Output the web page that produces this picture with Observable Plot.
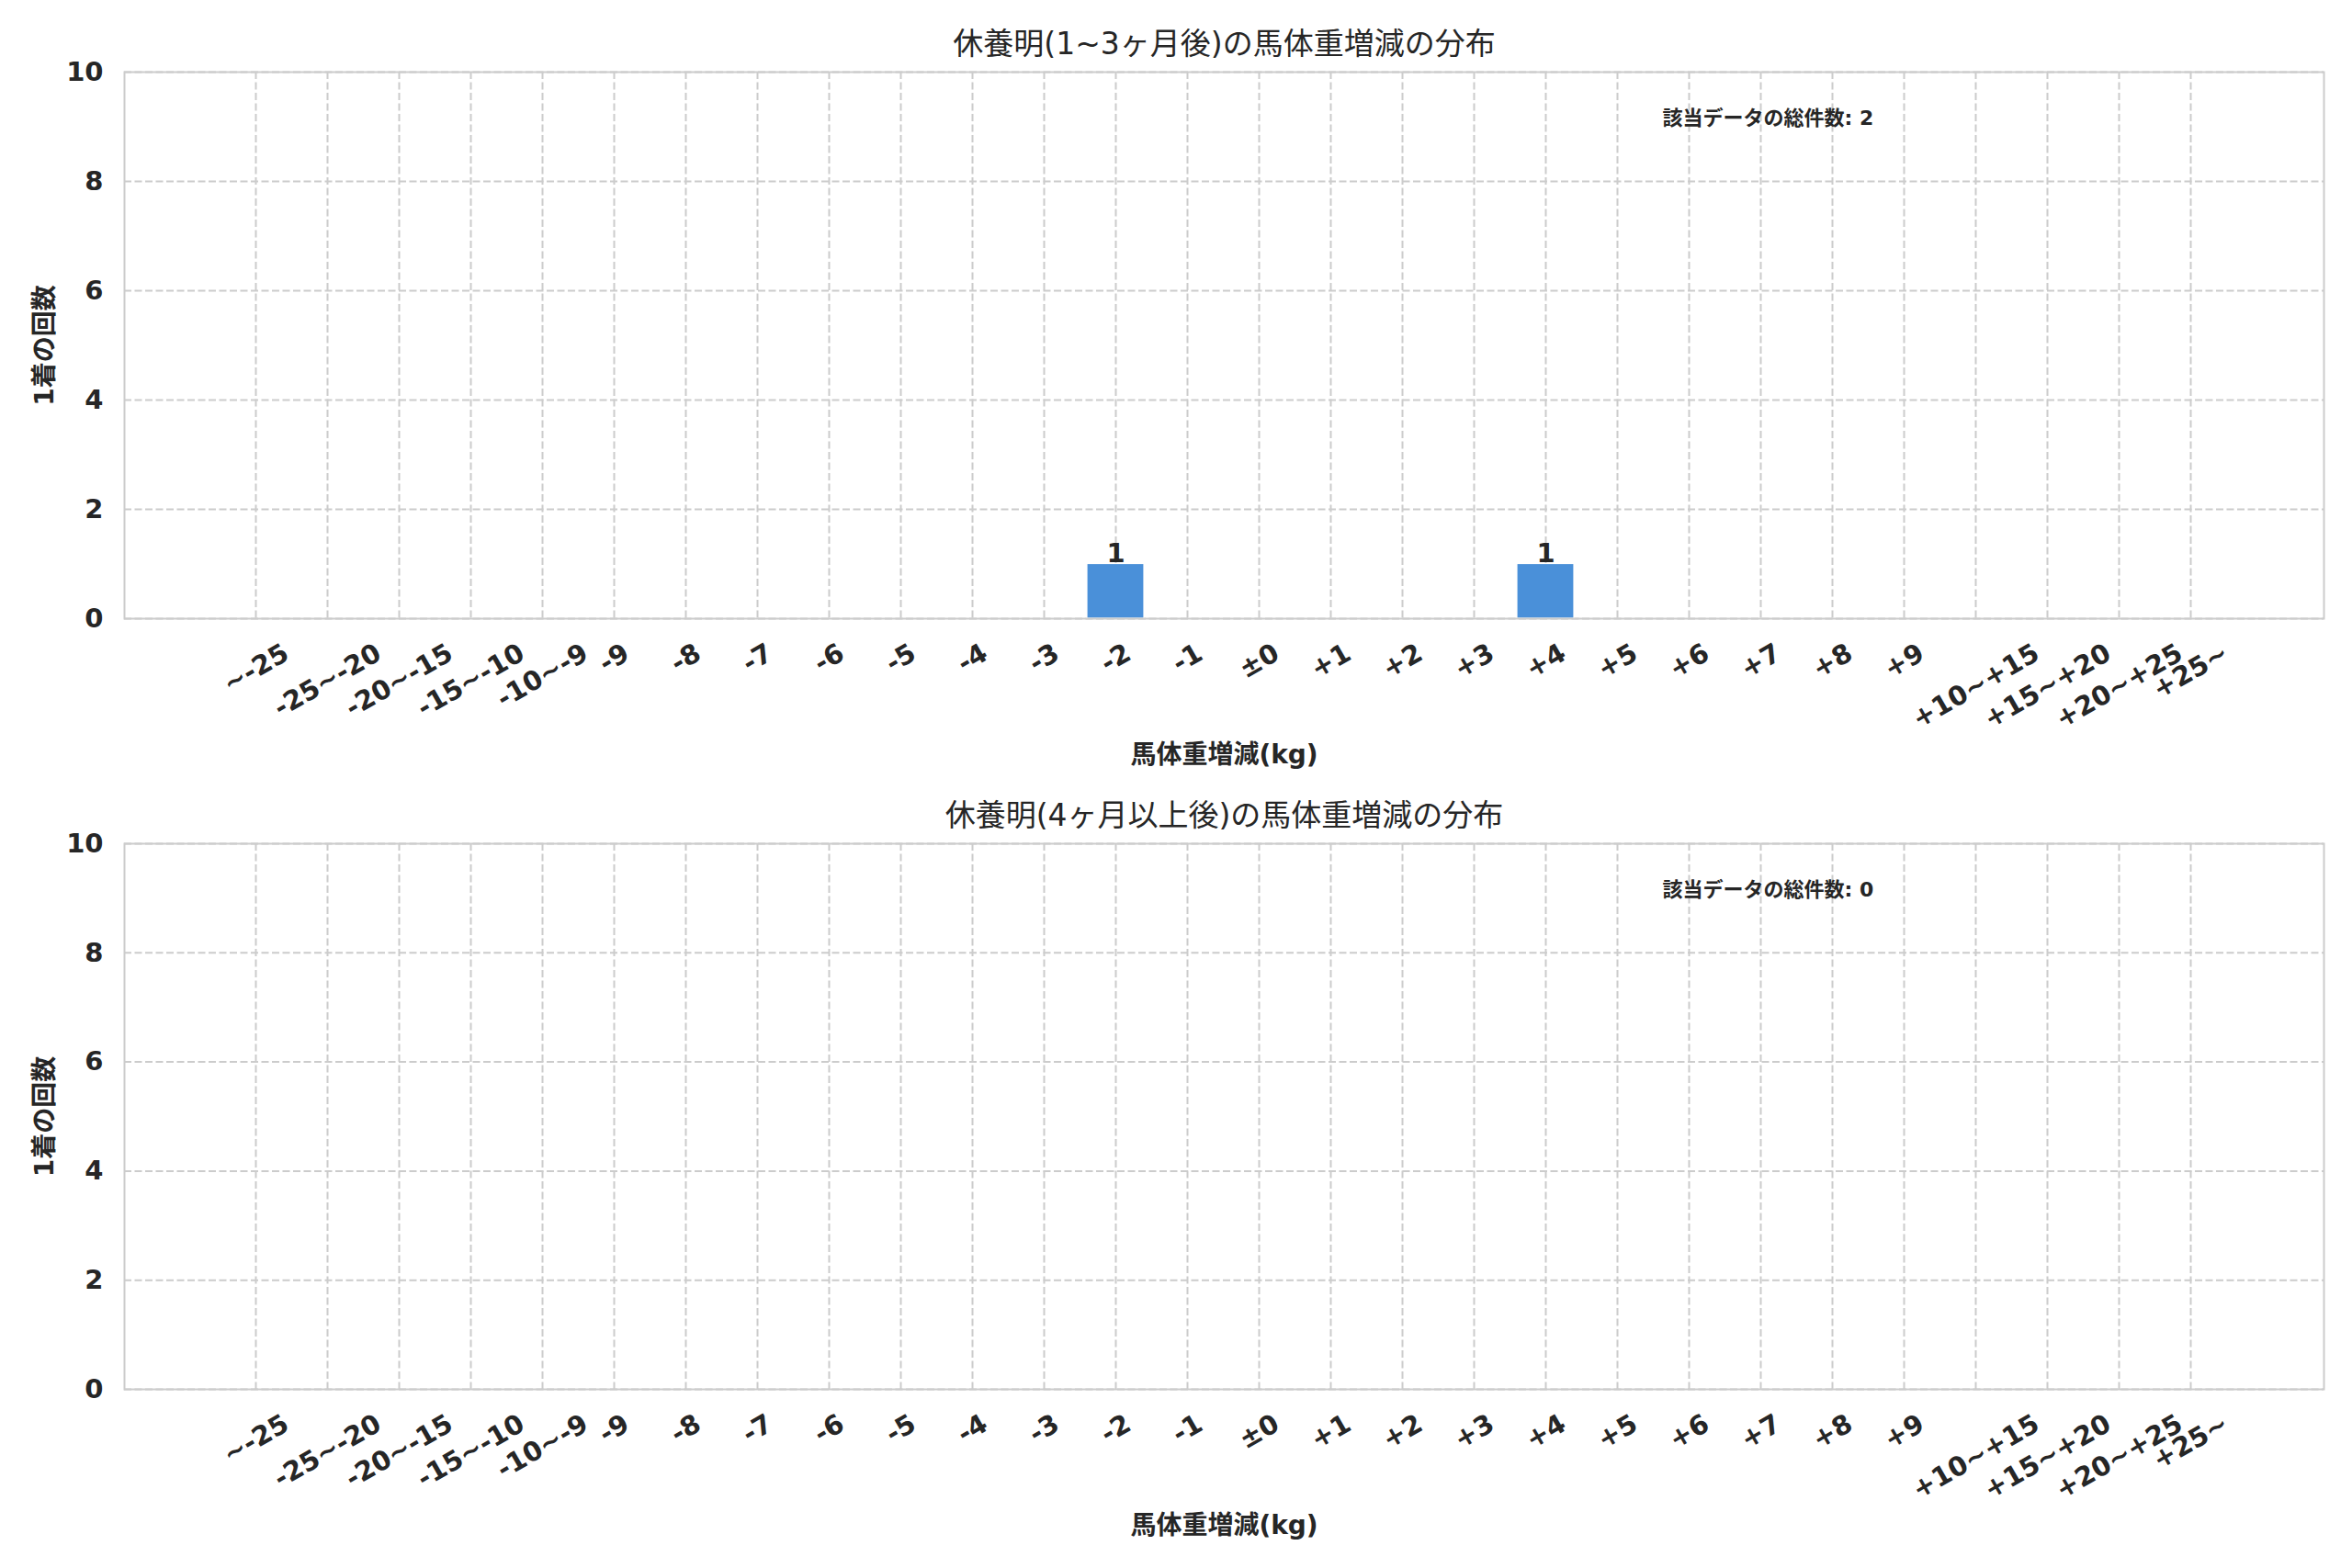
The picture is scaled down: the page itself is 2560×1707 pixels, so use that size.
<!DOCTYPE html>
<html>
<head>
<meta charset="utf-8">
<script src="https://cdn.jsdelivr.net/npm/d3@7"></script>
<script src="https://cdn.jsdelivr.net/npm/@observablehq/plot@0.6"></script>
<style>
html, body { margin: 0; padding: 0; background: #ffffff; }
#chart { width: 2560px; }
#chart svg { display: block; }
</style>
</head>
<body>
<div id="chart"></div>
<script>
// ---- data ----
const categories = [
  "~-25", "-25~-20", "-20~-15", "-15~-10", "-10~-9",
  "-9", "-8", "-7", "-6", "-5", "-4", "-3", "-2", "-1",
  "±0",
  "+1", "+2", "+3", "+4", "+5", "+6", "+7", "+8", "+9",
  "+10~+15", "+15~+20", "+20~+25", "+25~"
];
const countsShort = [0,0,0,0,0, 0,0,0,0,0,0,0,1,0, 0, 0,0,0,1,0,0,0,0,0, 0,0,0,0];
const countsLong  = [0,0,0,0,0, 0,0,0,0,0,0,0,0,0, 0, 0,0,0,0,0,0,0,0,0, 0,0,0,0];
const yTicks = [0, 2, 4, 6, 8, 10];
const titles = [
  "休養明(1~3ヶ月後)の馬体重増減の分布",
  "休養明(4ヶ月以上後)の馬体重増減の分布"
];
const xLabel = "馬体重増減(kg)";
const yLabel = "1着の回数";
const annotLabel = "該当データの総件数";

// ---- style ----
const FONT = "'DejaVu Sans', 'Noto Sans CJK JP', sans-serif";
const INK = "#262626";
const GRID = "#cccccc";
const BAR = "#4a90d9";
const TICK_FS = 29;

const ctx = document.createElement("canvas").getContext("2d");
function textWidth(s, font) { ctx.font = font; return ctx.measureText(s).width; }

function xTickMarks() {
  const pad = 26;
  const ang = 30 * Math.PI / 180;
  return categories.map(c => {
    const w = textWidth(c, `bold ${TICK_FS}px 'DejaVu Sans'`);
    const h = TICK_FS * 0.73;
    const vert = w * Math.sin(ang) + h * Math.cos(ang);
    return Plot.text([c], {
      x: d => d, text: d => d,
      frameAnchor: "bottom",
      dy: pad + vert / 2,
      rotate: -30,
      textAnchor: "middle",
      lineAnchor: "middle",
      fontSize: TICK_FS,
      fontWeight: "bold",
      fill: INK
    });
  });
}

function panel(counts, title, o) {
  const data = categories.map((c, i) => ({cat: c, n: counts[i]}));
  const total = d3.sum(counts);
  return Plot.plot({
    width: 2560,
    height: o.height,
    marginTop: o.mt,
    marginBottom: o.mb,
    marginLeft: 135,
    marginRight: 31,
    style: {fontFamily: FONT, fontSize: TICK_FS + "px", fontWeight: "bold", color: INK, background: "#ffffff"},
    x: {type: "band", domain: categories, range: [228, 2435], padding: 0.2, axis: null},
    y: {domain: [0, 10], axis: null},
    marks: [
      Plot.gridY(yTicks, {stroke: GRID, strokeOpacity: 1, strokeWidth: 2, strokeDasharray: "8,3.5"}),
      Plot.gridX(categories, {stroke: GRID, strokeOpacity: 1, strokeWidth: 2, strokeDasharray: "8,3.5"}),
      Plot.barY(data, {x: "cat", y: "n", fill: BAR, stroke: "#ffffff", strokeWidth: 1.2}),
      Plot.text(data.filter(d => d.n > 0), {
        x: "cat", y: "n", text: d => String(d.n),
        lineAnchor: "bottom", dy: -2, fontSize: 29, fontWeight: "bold", fill: INK
      }),
      Plot.axisY({ticks: yTicks, tickSize: 0, tickPadding: 23, fontSize: TICK_FS, label: null, fill: INK}),
      ...xTickMarks(),
      Plot.text([title], {
        frameAnchor: "top", dy: -30, text: d => d, lineAnchor: "middle",
        fontSize: 33, fontWeight: "normal", fill: INK
      }),
      Plot.text([xLabel], {
        frameAnchor: "bottom", dy: 149, text: d => d, lineAnchor: "middle",
        fontSize: 28, fontWeight: "bold", fill: INK
      }),
      Plot.text([yLabel], {
        frameAnchor: "left", dx: -86, rotate: -90, text: d => d,
        textAnchor: "middle", lineAnchor: "middle",
        fontSize: 28, fontWeight: "bold", fill: INK
      }),
      Plot.text([`${annotLabel}: ${total}`], {
        frameAnchor: "top-left", dx: 1674, dy: 50, text: d => d,
        textAnchor: "start", lineAnchor: "middle",
        fontSize: 22, fontWeight: "bold", fill: INK
      }),
      Plot.frame({stroke: GRID, strokeWidth: 2})
    ]
  });
}

const root = document.getElementById("chart");
root.append(panel(countsShort, titles[0], {height: 853, mt: 78, mb: 180}));
root.append(panel(countsLong, titles[1], {height: 854, mt: 65, mb: 195}));
</script>
</body>
</html>
